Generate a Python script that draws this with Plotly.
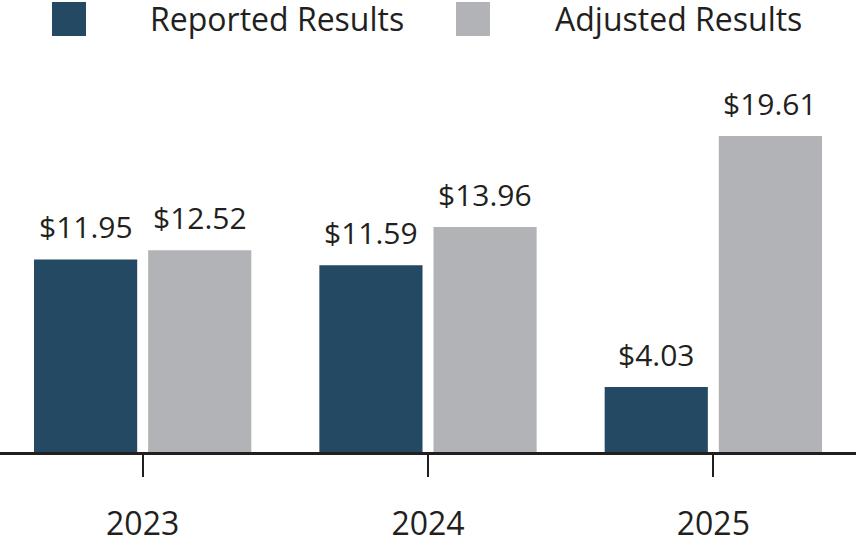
import plotly.graph_objects as go

years = ["2023", "2024", "2025"]
reported = [11.95, 11.59, 4.03]
adjusted = [12.52, 13.96, 19.61]
series_names = ["Reported Results", "Adjusted Results"]
colors = ["#244963", "#b1b3b6"]
FONT = "Open Sans"
TXT = "#231f20"

fig = go.Figure()
shifts = [-57, 57]
for k, (name, vals, col) in enumerate(zip(series_names, [reported, adjusted], colors)):
    fig.add_trace(go.Bar(
        x=years, y=vals, name=name, marker=dict(color=col, line=dict(width=0)),
        showlegend=False,
    ))
    for i, v in enumerate(vals):
        fig.add_annotation(x=i, y=v, xref="x", yref="y", text=f"${v:.2f}",
                           showarrow=False, xshift=shifts[k], yshift=10,
                           yanchor="bottom", xanchor="center",
                           font=dict(family=FONT, size=30, color=TXT))

# custom legend
leg_sq_x = [52, 456]
leg_tx_x = [148, 553]
PH = 554 - 100 - 102
for i, name in enumerate(series_names):
    fig.add_shape(type="rect", xref="paper", yref="paper",
                  x0=leg_sq_x[i] / 856, x1=(leg_sq_x[i] + 34) / 856,
                  y0=(554 - 102 - 36) / PH, y1=(554 - 102 - 2) / PH,
                  fillcolor=colors[i], line=dict(width=0), layer="above")
    fig.add_annotation(xref="paper", yref="paper", x=leg_tx_x[i] / 856,
                       y=(554 - 102 - 18) / PH, xanchor="left", yanchor="middle",
                       text=name, showarrow=False,
                       font=dict(family=FONT, size=32, color=TXT))

fig.update_layout(
    width=856, height=554, barmode="group", bargap=0.2, bargroupgap=0.096,
    margin=dict(l=0, r=0, t=100, b=102),
    plot_bgcolor="white", paper_bgcolor="white",
    xaxis=dict(type="category", showline=True, linecolor="#231f20", linewidth=3,
               ticks="outside", ticklen=22, tickwidth=2, tickcolor="#231f20",
               range=[-0.5, 2.5],
               tickfont=dict(family=FONT, size=32, color=TXT), ticklabelstandoff=20,
               showgrid=False),
    yaxis=dict(visible=False, range=[0, 21.85], showgrid=False, zeroline=False),
)
fig.write_html("out.html", config={"displayModeBar": False},
               post_script="document.body.style.margin='0';")
